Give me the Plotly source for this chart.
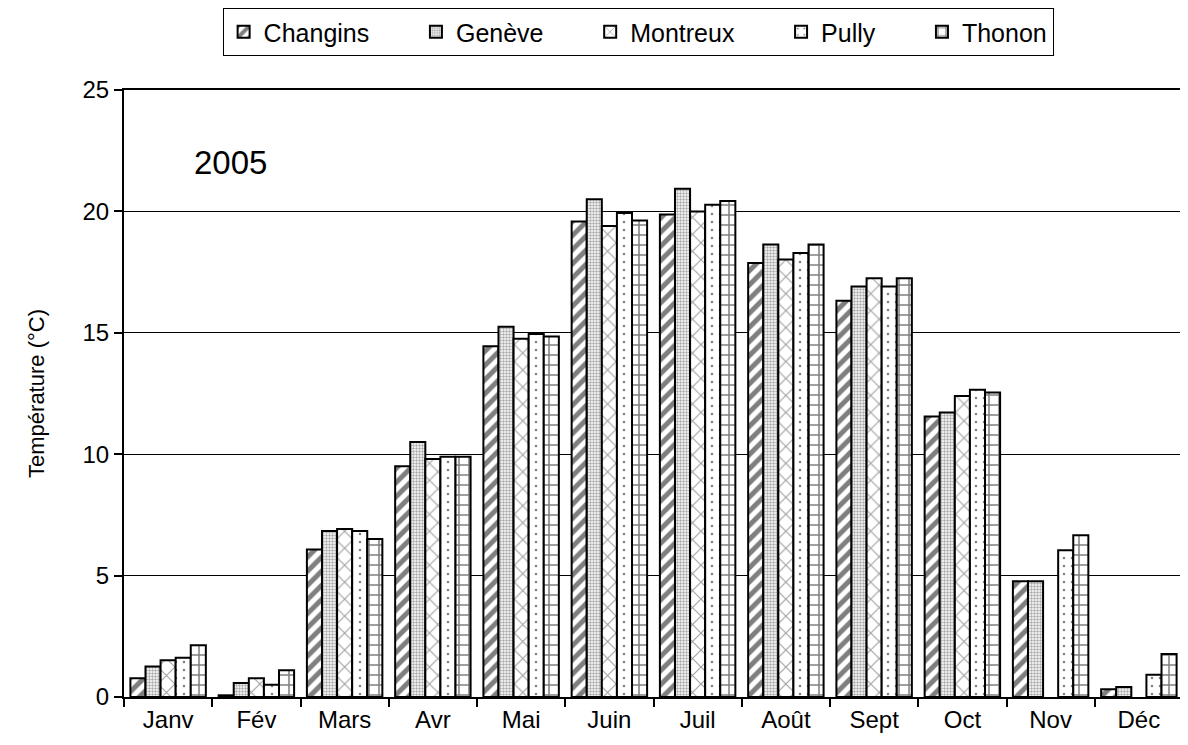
import plotly.graph_objects as go

mois = ["Janv", "Fév", "Mars", "Avr", "Mai", "Juin", "Juil", "Août", "Sept", "Oct", "Nov", "Déc"]

# températures moyennes mensuelles 2005 (°C)
changins = [0.77, 0.07, 6.07, 9.5, 14.45, 19.58, 19.87, 17.87, 16.32, 11.55, 4.77, 0.32]
geneve = [1.26, 0.58, 6.84, 10.5, 15.25, 20.5, 20.93, 18.64, 16.91, 11.72, 4.77, 0.41]
montreux = [1.51, 0.77, 6.92, 9.8, 14.75, 19.4, 20.0, 18.02, 17.25, 12.4, None, None]
pully = [1.62, 0.5, 6.84, 9.9, 14.95, 19.93, 20.27, 18.29, 16.91, 12.65, 6.04, 0.92]
thonon = [2.13, 1.1, 6.51, 9.9, 14.85, 19.63, 20.43, 18.64, 17.25, 12.54, 6.66, 1.77]

stations = ["Changins", "Genève", "Montreux", "Pully", "Thonon"]
valeurs = [changins, geneve, montreux, pully, thonon]

# motifs noir et blanc pour chaque station
motifs = [
    dict(shape="/", size=10, solidity=0.5, fgcolor="black", bgcolor="white"),
    dict(shape=".", size=3, solidity=0.5, fgcolor="#555555", bgcolor="white"),
    dict(shape="x", size=12, solidity=0.18, fgcolor="#444444", bgcolor="white"),
    dict(shape=".", size=8, solidity=0.08, fgcolor="black", bgcolor="white"),
    dict(shape="+", size=10, solidity=0.28, fgcolor="black", bgcolor="white"),
]

police = "Liberation Sans, Arial, sans-serif"
espace = "\u00a0" * 6  # écart entre les entrées de légende

fig = go.Figure()
for i, (nom, vals, motif) in enumerate(zip(stations, valeurs, motifs)):
    fig.add_trace(go.Bar(
        x=mois, y=vals, name=nom + (espace if i < len(stations) - 1 else ""),
        marker=dict(color="white", pattern=motif,
                    line=dict(color="black", width=2)),
    ))

# la page ajoute 8px de marge autour de la figure
fig.update_layout(
    width=1180, height=737,
    barmode="group", bargap=0.145, bargroupgap=0,
    plot_bgcolor="white", paper_bgcolor="white",
    margin=dict(l=116, r=3, t=82, b=48),
    font=dict(family=police, size=24, color="black"),
    legend=dict(
        orientation="h", xref="container", yref="container",
        x=0.534, xanchor="center", y=1.0, yanchor="top",
        bordercolor="black", borderwidth=1,
        font=dict(size=25), itemwidth=30,
    ),
    annotations=[dict(
        text="2005", x=0.101, xref="paper", y=22, yref="y", xanchor="center",
        showarrow=False, font=dict(size=33),
    )],
)

fig.update_xaxes(
    showline=True, linecolor="black", linewidth=2, mirror=True,
    ticks="outside", tickson="boundaries", ticklen=8, tickwidth=2, tickcolor="black",
    tickfont=dict(size=24),
)
fig.update_yaxes(
    range=[0, 25], dtick=5,
    showline=True, linecolor="black", linewidth=2, mirror=True,
    showgrid=True, gridcolor="black", gridwidth=1,
    ticks="outside", ticklen=8, tickwidth=2, tickcolor="black",
    tickfont=dict(size=24),
    title=dict(text="Température (°C)", font=dict(size=22), standoff=32),
)

fig.write_html("out.html")
